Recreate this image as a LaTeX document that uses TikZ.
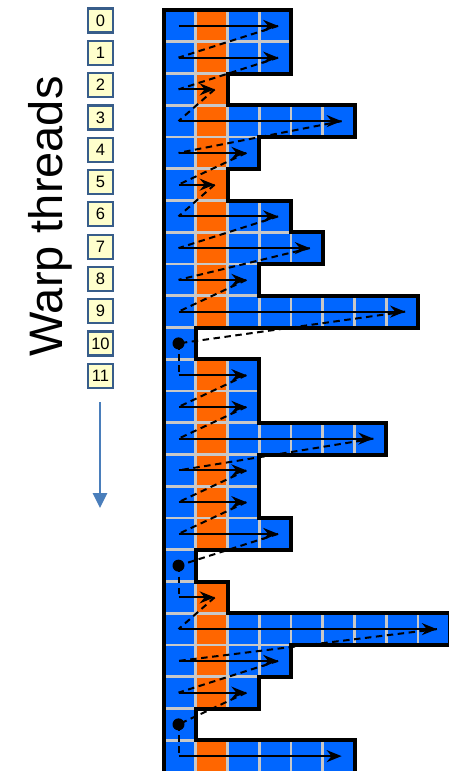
\documentclass[tikz,border=0pt]{standalone}
\usepackage{fontspec}
\setmainfont{Liberation Sans}
\usetikzlibrary{arrows.meta}
\definecolor{cellblue}{RGB}{0,102,255}
\definecolor{cellorange}{RGB}{255,102,0}
\definecolor{gridgrey}{RGB}{200,200,200}
\definecolor{boxfill}{RGB}{255,255,204}
\definecolor{boxline}{RGB}{56,93,138}
\definecolor{warparrow}{RGB}{74,126,187}
\tikzset{
  wbox/.style={draw=boxline, fill=boxfill, line width=2.2pt, minimum width=25pt, minimum height=24pt, inner sep=0pt, font=\fontsize{16.5}{16.5}\selectfont},
  rowarrow/.style={line width=1.8pt, -{Stealth[length=15pt,width=12pt,inset=5pt]}},
  backdash/.style={line width=2pt, dash pattern=on 6.5pt off 4.5pt},
  dotn/.style={circle, fill=black, inner sep=0pt, minimum size=12pt},
  outline/.style={line width=4pt, line join=miter},
  gridline/.style={draw=gridgrey, line width=2.6pt},
  warpline/.style={draw=warparrow, line width=2.8pt, -{Triangle[length=15pt,width=14pt]}},
  titletext/.style={rotate=90, anchor=base, font=\fontsize{47}{50}\selectfont},
}
\begin{document}
\begin{tikzpicture}[x=1pt,y=-1pt]
\useasboundingbox (0,0) rectangle (449,771);
\clip (0,0) rectangle (449,771);
\def\c{31.75}
\def\rows{0/4,1/4,2/2,3/6,4/3,5/2,6/4,7/5,8/3,9/8,10/1,11/3,12/3,13/7,14/3,15/3,16/4,17/1,18/2,19/9,20/4,21/3,22/1,23/6}
\def\outl{0/4/4,1/4/2,2/2/6,3/6/3,4/3/2,5/2/4,6/4/5,7/5/3,8/3/8,9/8/1,10/1/3,11/3/3,12/3/7,13/7/3,14/3/3,15/3/4,16/4/1,17/1/2,18/2/9,19/9/4,20/4/3,21/3/1,22/1/6}
% cells
\foreach \i/\w in \rows {
  \fill[cellblue] (164,{10+\i*\c}) rectangle ({164+\w*\c},{10+(\i+1)*\c});
  \ifnum\w>1
    \fill[cellorange] ({164+\c},{10+\i*\c}) rectangle ({164+2*\c},{10+(\i+1)*\c});
  \fi
}
% grid lines
\foreach \i/\w in \rows {
  \foreach \j in {1,...,\w} {
    \draw[gridline] ({164+(\j-1)*\c},{10+\i*\c}) rectangle ++(\c,\c);
  }
}
% outline
\draw[outline] (164,790) -- (164,10) -- ({164+4*\c},10)
  \foreach \i/\w/\n in \outl { -- ({164+\w*\c},{10+(\i+1)*\c}) -- ({164+\n*\c},{10+(\i+1)*\c}) }
  -- ({164+6*\c},790);
% coordinates of arrows
\foreach \i/\w in \rows {
  \coordinate (s\i) at (178.5,{10+(\i+0.5)*\c});
  \coordinate (t\i) at ({164+(\w-0.5)*\c+3},{10+(\i+0.5)*\c});
}
% dots
\foreach \i in {10,17,22} { \node[dotn] (d\i) at (s\i) {}; }
% dashed returns
\foreach \a/\b in {t0/s1,t1/s2,t2/s3,t3/s4,t4/s5,t5/s6,t6/s7,t7/s8,t8/s9,t9/d10,d10/s11,
                   t11/s12,t12/s13,t13/s14,t14/s15,t15/s16,t16/d17,d17/s18,
                   t18/s19,t19/s20,t20/s21,t21/d22,d22/s23} {
  \draw[backdash] (\a.center) -- (\b.center);
}
% row arrows
\foreach \i in {0,...,9,11,12,13,14,15,16,18,19,20,21,23} {
  \draw[rowarrow] (s\i) -- (t\i);
}
% left side
\node[titletext] (title) at (62,216.5) {Warp threads};
\foreach \k in {0,...,11} { \node[wbox] (b\k) at (100.5,{20.5+32.3*\k}) {\k}; }
\coordinate (wa) at (100,402);
\coordinate (wb) at (100,508);
\draw[warpline] (wa) -- (wb);
\end{tikzpicture}
\end{document}
